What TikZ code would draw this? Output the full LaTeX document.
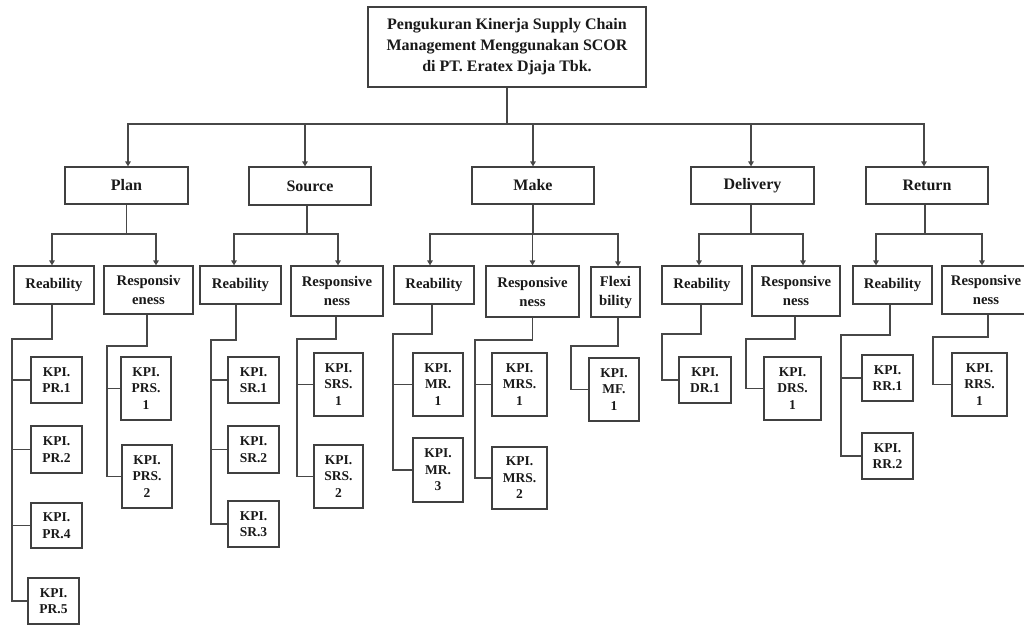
\documentclass[tikz,border=0pt]{standalone}
\usepackage{fontspec}
\setmainfont{Liberation Serif}
\usetikzlibrary{arrows.meta}
\begin{document}
\begin{tikzpicture}[x=1pt,y=-1pt,
  box/.style={draw=black!75,line width=1.2pt,text=black!90,font=\bfseries,align=center,inner sep=0pt},
  lvl/.style={box,font=\fontsize{16}{20}\selectfont\bfseries},
  sub/.style={box,font=\fontsize{14.7}{19}\selectfont\bfseries},
  kpi/.style={box,font=\fontsize{13.5}{16.5}\selectfont\bfseries},
  conn/.style={draw=black!72,line width=1.2pt},
  arr/.style={conn,-{Triangle[length=5pt,width=5.5pt]}}]
\useasboundingbox (0,0) rectangle (1024,624);
% title
\node[box,font=\fontsize{16}{21}\selectfont\bfseries,minimum width=278,minimum height=80] (title) at (507,47)
  {Pengukuran Kinerja Supply Chain\\Management Menggunakan SCOR\\di PT. Eratex Djaja Tbk.};
% level 1
\node[lvl,minimum width=123,minimum height=37] (plan) at (126.5,185.5) {Plan};
\node[lvl,minimum width=122,minimum height=38] (source) at (310,186) {Source};
\node[lvl,minimum width=122,minimum height=37] (make) at (533,185.5) {Make};
\node[lvl,minimum width=123,minimum height=37] (deliv) at (752.5,185.5) {Delivery};
\node[lvl,minimum width=122,minimum height=37] (ret) at (927,185.5) {Return};
% level 2
\node[sub,minimum width=80,minimum height=38] (preab) at (54,285) {Reability};
\node[sub,minimum width=89,minimum height=48] (presp) at (148.5,290) {Responsiv\\eness};
\node[sub,minimum width=81,minimum height=38] (sreab) at (240.5,285) {Reability};
\node[sub,minimum width=92,minimum height=50] (sresp) at (337,291) {Responsive\\ness};
\node[sub,minimum width=80,minimum height=38] (mreab) at (434,285) {Reability};
\node[sub,minimum width=93,minimum height=51] (mresp) at (532.5,291.5) {Responsive\\ness};
\node[sub,minimum width=49,minimum height=50] (mflex) at (615.5,292) {Flexi\\bility};
\node[sub,minimum width=80,minimum height=38] (dreab) at (702,285) {Reability};
\node[sub,minimum width=88,minimum height=50] (dresp) at (796,291) {Responsive\\ness};
\node[sub,minimum width=79,minimum height=38] (rreab) at (892.5,285) {Reability};
\node[sub,minimum width=88,minimum height=48] (rresp) at (986,290) {Responsive\\ness};
% KPI boxes
\node[kpi,minimum width=51,minimum height=46] (pr1) at (56.5,380) {KPI.\\PR.1};
\node[kpi,minimum width=51,minimum height=47] (pr2) at (56.5,449.5) {KPI.\\PR.2};
\node[kpi,minimum width=51,minimum height=45] (pr4) at (56.5,525.5) {KPI.\\PR.4};
\node[kpi,minimum width=51,minimum height=46] (pr5) at (53.5,601) {KPI.\\PR.5};
\node[kpi,minimum width=50,minimum height=63] (prs1) at (146,388.5) {KPI.\\PRS.\\1};
\node[kpi,minimum width=50,minimum height=63] (prs2) at (147,476.5) {KPI.\\PRS.\\2};
\node[kpi,minimum width=51,minimum height=46] (sr1) at (253.5,380) {KPI.\\SR.1};
\node[kpi,minimum width=51,minimum height=47] (sr2) at (253.5,449.5) {KPI.\\SR.2};
\node[kpi,minimum width=51,minimum height=46] (sr3) at (253.5,524) {KPI.\\SR.3};
\node[kpi,minimum width=49,minimum height=63] (srs1) at (338.5,384.5) {KPI.\\SRS.\\1};
\node[kpi,minimum width=49,minimum height=63] (srs2) at (338.5,476.5) {KPI.\\SRS.\\2};
\node[kpi,minimum width=50,minimum height=63] (mr1) at (438,384.5) {KPI.\\MR.\\1};
\node[kpi,minimum width=50,minimum height=64] (mr3) at (438,470) {KPI.\\MR.\\3};
\node[kpi,minimum width=55,minimum height=63] (mrs1) at (519.5,384.5) {KPI.\\MRS.\\1};
\node[kpi,minimum width=55,minimum height=62] (mrs2) at (519.5,478) {KPI.\\MRS.\\2};
\node[kpi,minimum width=50,minimum height=63] (mf1) at (614,389.5) {KPI.\\MF.\\1};
\node[kpi,minimum width=52,minimum height=46] (dr1) at (705,380) {KPI.\\DR.1};
\node[kpi,minimum width=57,minimum height=63] (drs1) at (792.5,388.5) {KPI.\\DRS.\\1};
\node[kpi,minimum width=51,minimum height=46] (rr1) at (887.5,378) {KPI.\\RR.1};
\node[kpi,minimum width=51,minimum height=46] (rr2) at (887.5,456) {KPI.\\RR.2};
\node[kpi,minimum width=55,minimum height=63] (rrs1) at (979.5,384.5) {KPI.\\RRS.\\1};
% bus coordinates
\coordinate (bus) at (507,124);
\coordinate (pbus) at (126.5,234);
\coordinate (sbus) at (307,234);
\coordinate (mbus) at (533,234);
\coordinate (dbus) at (751,234);
\coordinate (rbus) at (925,234);
\coordinate (pra) at (12,339);
\coordinate (prr) at (107,346);
\coordinate (sra) at (211,340);
\coordinate (srr) at (297,339);
\coordinate (mra) at (393,334);
\coordinate (mrr) at (475,340);
\coordinate (mfl) at (571,346);
\coordinate (dra) at (662,334);
\coordinate (drr) at (746,339);
\coordinate (rra) at (841,335);
\coordinate (rrr) at (933,337);
% title to level 1
\draw[conn] (title.south) -- (bus);
\draw[arr] (bus) -| ([xshift=1.5]plan.north);
\draw[arr] (bus) -| ([xshift=-5]source.north);
\draw[arr] (bus) -| (make.north);
\draw[arr] (bus) -| ([xshift=-1.5]deliv.north);
\draw[arr] (bus) -| ([xshift=-3]ret.north);
% level 1 to level 2
\draw[conn] (plan.south) -- (pbus);
\draw[arr] (pbus) -| ([xshift=-2]preab.north);
\draw[arr] (pbus) -| ([xshift=7.5]presp.north);
\draw[conn] ([xshift=-3]source.south) -- (sbus);
\draw[arr] (sbus) -| ([xshift=-6.5]sreab.north);
\draw[arr] (sbus) -| ([xshift=1]sresp.north);
\draw[conn] (make.south) -- (mbus);
\draw[arr] (mbus) -| ([xshift=-4]mreab.north);
\draw[arr] (mbus) -| (mresp.north);
\draw[arr] (mbus) -| ([xshift=2.5]mflex.north);
\draw[conn] ([xshift=-1.5]deliv.south) -- (dbus);
\draw[arr] (dbus) -| ([xshift=-3]dreab.north);
\draw[arr] (dbus) -| ([xshift=7]dresp.north);
\draw[conn] ([xshift=-2]ret.south) -- (rbus);
\draw[arr] (rbus) -| ([xshift=-16.5]rreab.north);
\draw[arr] (rbus) -| ([xshift=-4]rresp.north);
% level 2 to KPI
\draw[conn] ([xshift=-2]preab.south) |- (pra) |- (pr1.west);
\draw[conn] (pra) |- (pr2.west);
\draw[conn] (pra) |- (pr4.west);
\draw[conn] (pra) |- (pr5.west);
\draw[conn] ([xshift=-1.5]presp.south) |- (prr) |- (prs1.west);
\draw[conn] (prr) |- (prs2.west);
\draw[conn] ([xshift=-4.5]sreab.south) |- (sra) |- (sr1.west);
\draw[conn] (sra) |- (sr2.west);
\draw[conn] (sra) |- (sr3.west);
\draw[conn] ([xshift=-1]sresp.south) |- (srr) |- (srs1.west);
\draw[conn] (srr) |- (srs2.west);
\draw[conn] ([xshift=-2]mreab.south) |- (mra) |- (mr1.west);
\draw[conn] (mra) |- (mr3.west);
\draw[conn] (mresp.south) |- (mrr) |- (mrs1.west);
\draw[conn] (mrr) |- (mrs2.west);
\draw[conn] ([xshift=2.5]mflex.south) |- (mfl) |- (mf1.west);
\draw[conn] ([xshift=-1]dreab.south) |- (dra) |- (dr1.west);
\draw[conn] ([xshift=-1]dresp.south) |- (drr) |- (drs1.west);
\draw[conn] ([xshift=-2.5]rreab.south) |- (rra) |- (rr1.west);
\draw[conn] (rra) |- (rr2.west);
\draw[conn] ([xshift=2]rresp.south) |- (rrr) |- (rrs1.west);
\end{tikzpicture}
\end{document}
